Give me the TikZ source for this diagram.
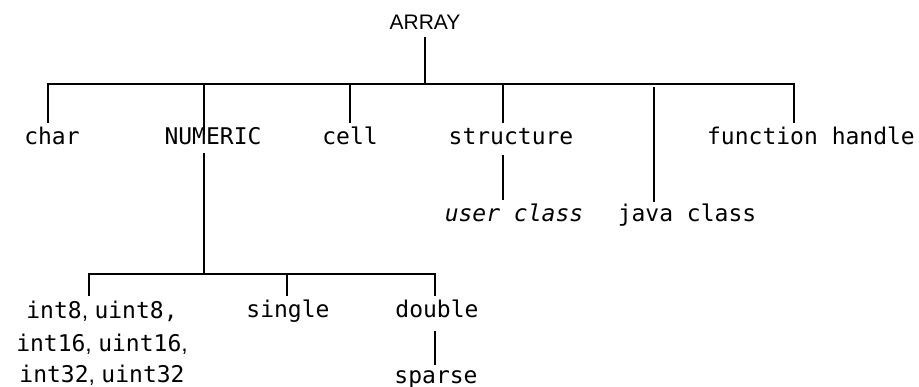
\documentclass[tikz,border=0pt]{standalone}
\usepackage{fontspec}
\newfontfamily\monof{DejaVu Sans Mono}
\newfontfamily\sansf{Liberation Sans}
\newcommand\sepcomma{{\sansf,\ }}
\begin{document}
\begin{tikzpicture}[x=1pt,y=-1pt,
  lbl/.style={anchor=base,inner sep=0pt,font=\monof\fontsize{23}{32}\selectfont},
  ttl/.style={anchor=base,inner sep=0pt,font=\sansf\fontsize{21}{26}\selectfont},
  link/.style={line width=2.3pt}]
\useasboundingbox (0,0) rectangle (919,387);
% labels
\node[ttl] (array) at (425,30) {ARRAY};
\node[lbl] (char) at (52,145) {char};
\node[lbl] (numeric) at (213,145) {NUMERIC};
\node[lbl] (cell) at (350,145) {cell};
\node[lbl] (structure) at (511,145) {structure};
\node[lbl] (fh) at (811,145) {function handle};
\node[lbl] (user) at (514,222) {\itshape user class};
\node[lbl] (java) at (687,222) {java class};
\node[lbl,align=center] (ints) at (102,383) {int8\sepcomma uint8,\\int16\sepcomma uint16\sepcomma\\int32\sepcomma uint32};
\node[lbl] (single) at (288,318) {single};
\node[lbl] (double) at (437,318) {double};
\node[lbl] (sparse) at (436,384) {sparse};
% junction coordinates
\coordinate (a0) at (425,37);
\coordinate (a1) at (425,84);
\coordinate (barL) at (48,84);
\coordinate (barR) at (794,84);
\coordinate (c0) at (48,123);
\coordinate (n0) at (204,84);
\coordinate (n1) at (204,135);
\coordinate (n2) at (204,153);
\coordinate (n3) at (204,274);
\coordinate (ce0) at (350,84);
\coordinate (ce1) at (350,123);
\coordinate (s0) at (503,84);
\coordinate (s1) at (503,123);
\coordinate (s2) at (503,155);
\coordinate (s3) at (503,200);
\coordinate (j0) at (654,87);
\coordinate (j1) at (654,202);
\coordinate (f1) at (794,123);
\coordinate (bL) at (89,274);
\coordinate (bR) at (435,274);
\coordinate (i1) at (89,296);
\coordinate (sg0) at (287,274);
\coordinate (sg1) at (287,296);
\coordinate (d1) at (435,296);
\coordinate (d2) at (435,331);
\coordinate (d3) at (435,365);
% connectors
\draw[link] (a0) -- (a1);
\draw[link] (c0) -- (barL) -- (barR) -- (f1);
\draw[link] (n0) -- (n1);
\draw[link] (ce0) -- (ce1);
\draw[link] (s0) -- (s1);
\draw[link] (j0) -- (j1);
\draw[link] (s2) -- (s3);
\draw[link] (n2) -- (n3);
\draw[link] (i1) -- (bL) -- (bR) -- (d1);
\draw[link] (sg0) -- (sg1);
\draw[link] (d2) -- (d3);
\end{tikzpicture}
\end{document}
